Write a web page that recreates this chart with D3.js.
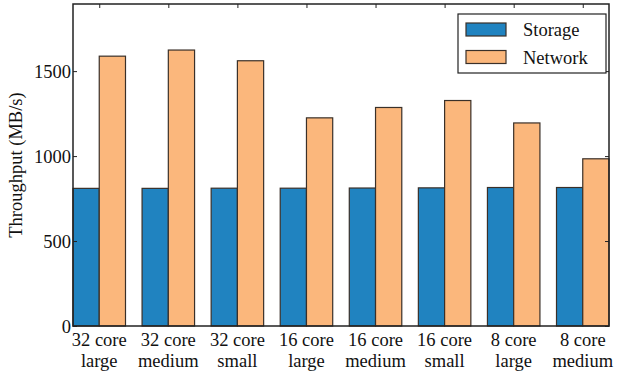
<!DOCTYPE html>
<html>
<head>
<meta charset="utf-8">
<script src="https://cdn.jsdelivr.net/npm/d3@7"></script>
<style>
  body { margin: 0; background: #fff; }
</style>
</head>
<body>
<svg id="chart"></svg>
<script>
const categories = [
  ['32 core', 'large'], ['32 core', 'medium'], ['32 core', 'small'],
  ['16 core', 'large'], ['16 core', 'medium'], ['16 core', 'small'],
  ['8 core', 'large'], ['8 core', 'medium']
];
const storage = [810, 810, 811, 811, 812, 813, 815, 815];
const network = [1588, 1624, 1561, 1225, 1286, 1327, 1195, 984];
const yTicks = [0, 500, 1000, 1500];
const seriesNames = ['Storage', 'Network'];
const colors = ['#2083c0', '#fbb77c'];

const font = "'Liberation Serif', 'Times New Roman', serif";
const fs = 18.5;
const width = 618, height = 373;
const margin = { top: 4, right: 9, bottom: 47, left: 73 };
const w = width - margin.left - margin.right;
const h = height - margin.top - margin.bottom;
const barW = 0.38;

const svg = d3.select('#chart').attr('width', width).attr('height', height)
  .attr('font-family', font);
const g = svg.append('g').attr('transform', `translate(${margin.left},${margin.top})`);

const x = d3.scaleLinear().domain([-barW, categories.length - 1 + barW]).range([0, w]);
const y = d3.scaleLinear().domain([0, 1895]).range([h, 0]);

const groups = categories.map((c, i) => i);

// bars
[storage, network].forEach((vals, s) => {
  g.append('g').selectAll('rect')
    .data(vals)
    .enter().append('rect')
    .attr('x', (d, i) => x(i - barW + s * barW))
    .attr('y', d => y(d))
    .attr('width', x(barW) - x(0))
    .attr('height', d => y(0) - y(d))
    .attr('fill', colors[s])
    .attr('stroke', '#3a3029')
    .attr('stroke-width', 1.2);
});

// inward ticks on all sides
const tickLen = 4;
g.append('g').call(d3.axisLeft(y).tickValues(yTicks).tickSize(-tickLen).tickPadding(2).tickFormat(d3.format('d')))
  .call(a => a.select('.domain').remove())
  .call(a => a.attr('font-family', font).attr('font-size', fs))
  .call(a => a.selectAll('text').attr('fill', '#111').attr('dy', '0.35em'));
g.append('g').attr('transform', `translate(${w},0)`)
  .call(d3.axisRight(y).tickValues(yTicks).tickSize(-tickLen).tickFormat(''))
  .call(a => a.select('.domain').remove());
g.append('g')
  .call(d3.axisTop(x).tickValues(groups).tickSize(-tickLen).tickFormat(''))
  .call(a => a.select('.domain').remove());
g.selectAll('.tick line').attr('stroke', '#222');

// x labels (two lines)
const xl = g.append('g').selectAll('text')
  .data(categories)
  .enter().append('text')
  .attr('x', (d, i) => x(i))
  .attr('y', h + 20)
  .attr('text-anchor', 'middle')
  .attr('font-size', fs)
  .attr('fill', '#111');
xl.append('tspan').attr('x', (d, i) => x(i)).text(d => d[0]);
xl.append('tspan').attr('x', (d, i) => x(i)).attr('dy', 21).text(d => d[1]);

// frame
g.append('rect').attr('width', w).attr('height', h)
  .attr('fill', 'none').attr('stroke', '#222').attr('stroke-width', 1.5);

// y label
svg.append('text')
  .attr('transform', `translate(22,${margin.top + h / 2}) rotate(-90)`)
  .attr('text-anchor', 'middle')
  .attr('font-size', fs)
  .attr('fill', '#111')
  .text('Throughput (MB/s)');

// legend
const lg = svg.append('g').attr('transform', 'translate(458,14)');
lg.append('rect').attr('width', 148).attr('height', 59)
  .attr('fill', '#fff').attr('stroke', '#222').attr('stroke-width', 1.2);
seriesNames.forEach((n, i) => {
  lg.append('rect').attr('x', 8).attr('y', 9 + i * 27.5).attr('width', 40).attr('height', 13)
    .attr('fill', colors[i]).attr('stroke', '#3a3029').attr('stroke-width', 1.2);
  lg.append('text').attr('x', 65).attr('y', 22 + i * 28)
    .attr('font-size', fs).attr('fill', '#111').text(n);
});
</script>
</body>
</html>
